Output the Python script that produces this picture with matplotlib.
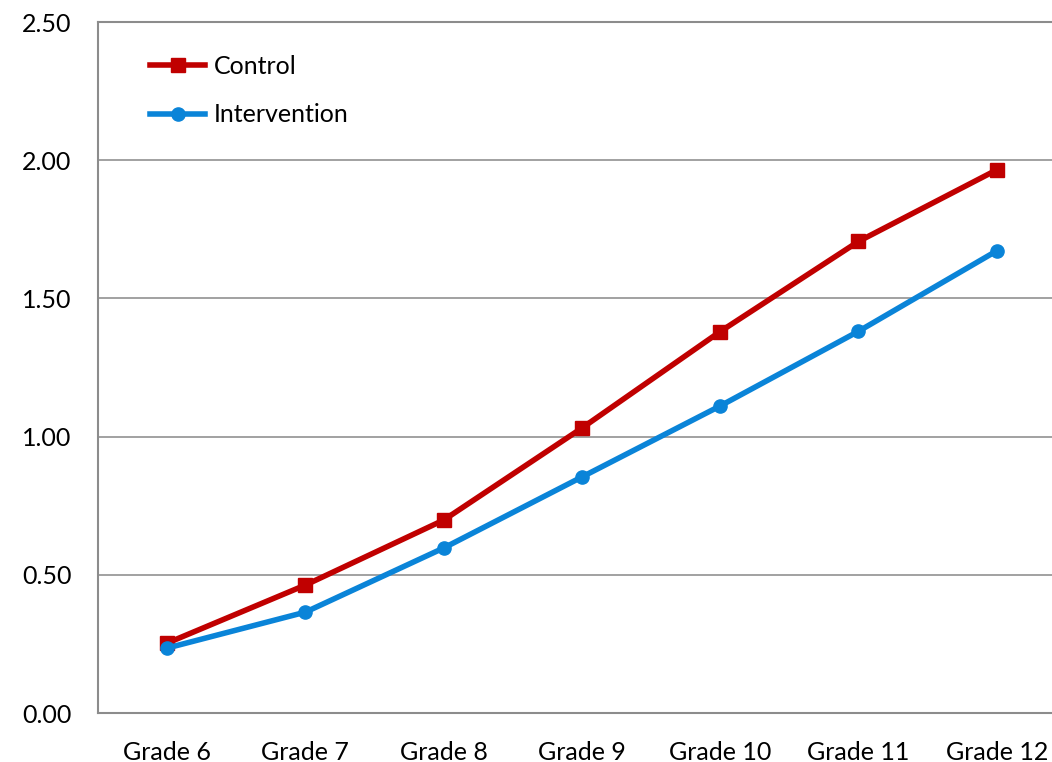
import matplotlib
matplotlib.use("Agg")
import matplotlib.pyplot as plt

grades = ["Grade 6", "Grade 7", "Grade 8", "Grade 9", "Grade 10", "Grade 11", "Grade 12"]
control = [0.253, 0.463, 0.698, 1.031, 1.380, 1.706, 1.965]
intervention = [0.235, 0.365, 0.597, 0.854, 1.111, 1.381, 1.672]
yticks = [0.0, 0.5, 1.0, 1.5, 2.0, 2.5]

plt.rcParams["font.family"] = ["Lato", "DejaVu Sans"]

fig = plt.figure(figsize=(10.52, 7.62), dpi=100)
ax = fig.add_axes([0.0932, 0.0643, 0.9068, 0.9068])

x = range(len(grades))
ax.plot(x, control, color="#c00000", lw=4, marker="s", ms=9.5, label="Control")
ax.plot(x, intervention, color="#0a84d8", lw=4, marker="o", ms=9.5, label="Intervention")

ax.set_xlim(-0.5, 6.4)
ax.set_ylim(0, 2.5)
ax.set_yticks(yticks)
ax.set_yticklabels([f"{v:.2f}" for v in yticks])
ax.set_xticks(list(x))
ax.set_xticklabels(grades)
ax.tick_params(length=0, labelsize=18, colors="black")
ax.tick_params(axis="x", pad=20)
ax.tick_params(axis="y", pad=19)

ax.grid(axis="y", color="#9a9a9a", lw=1.3)
ax.set_axisbelow(True)
for s in ["left", "top", "bottom"]:
    ax.spines[s].set_color("#8c8c8c")
    ax.spines[s].set_linewidth(1.5)
ax.spines["right"].set_visible(False)

ax.legend(loc="upper left", bbox_to_anchor=(0.031, 0.985), frameon=False,
          fontsize=18, handlelength=2.2, handletextpad=0.35, labelspacing=1.02)

fig.savefig("out.png", dpi=100)
